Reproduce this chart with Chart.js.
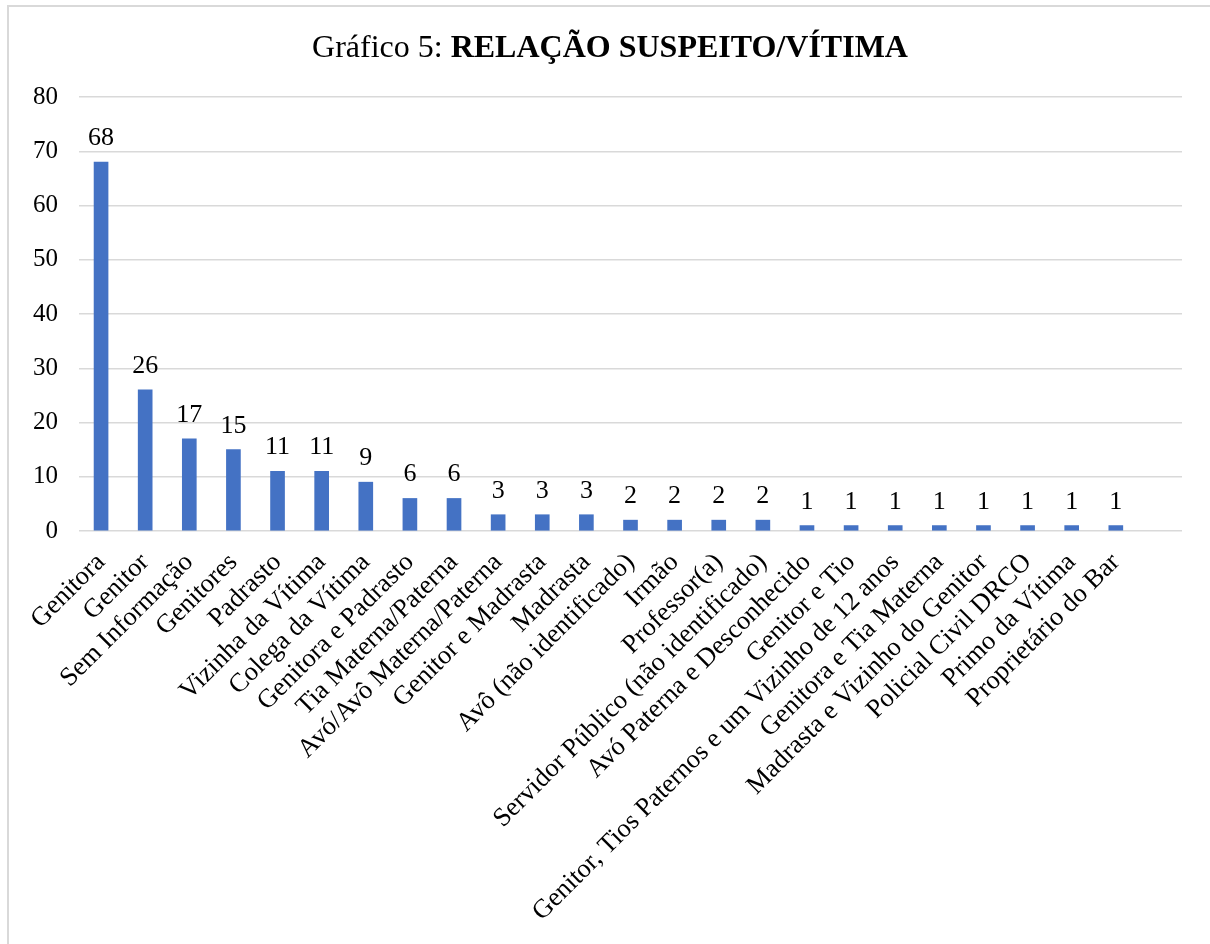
<!DOCTYPE html>
<html lang="pt">

<head>
    <meta charset="UTF-8">
    <title>Gráfico 5</title>
    <script src="https://cdn.jsdelivr.net/npm/chart.js@4.4.0/dist/chart.umd.min.js"></script>
    <style>
        html, body { margin: 0; padding: 0; background: #fff; overflow: hidden; }
        #frame {
            position: absolute; left: 7px; top: 5px; width: 1400px; height: 1100px;
            border: 2px solid #d9d9d9; box-sizing: border-box;
        }
        #myChart { position: absolute; left: 0; top: 0; }
    </style>
</head>

<body>
    <div id="frame"></div>
    <canvas id="myChart" width="1210" height="944"></canvas>

    <script>
        // categorias (a última vem vazia na planilha original)
        const categorias = [
            'Genitora', 'Genitor', 'Sem Informação', 'Genitores', 'Padrasto',
            'Vizinha da Vítima', 'Colega da Vítima', 'Genitora e Padrasto',
            'Tia Materna/Paterna', 'Avó/Avô Materna/Paterna', 'Genitor e Madrasta',
            'Madrasta', 'Avô (não identificado)', 'Irmão', 'Professor(a)',
            'Servidor Público (não identificado)', 'Avó Paterna e Desconhecido',
            'Genitor e Tio', 'Genitor, Tios Paternos e um Vizinho de 12 anos',
            'Genitora e Tia Materna', 'Madrasta e Vizinho do Genitor',
            'Policial Civil DRCO', 'Primo da Vítima', 'Proprietário do Bar', ''
        ]
        const casos = [68, 26, 17, 15, 11, 11, 9, 6, 6, 3, 3, 3, 2, 2, 2, 2, 1, 1, 1, 1, 1, 1, 1, 1, null]
        const yTicks = [0, 10, 20, 30, 40, 50, 60, 70, 80]

        const tituloNormal = 'Gráfico 5: '
        const tituloNegrito = 'RELAÇÃO SUSPEITO/VÍTIMA'

        const serif = '"Liberation Serif", "Times New Roman", serif'

        // titulo com parte em negrito
        const tituloPlugin = {
            id: 'titulo',
            afterDraw(chart) {
                const ctx = chart.ctx
                ctx.save()
                ctx.fillStyle = '#000'
                ctx.textBaseline = 'alphabetic'
                ctx.font = '32px ' + serif
                const w1 = ctx.measureText(tituloNormal).width
                ctx.font = 'bold 32px ' + serif
                const w2 = ctx.measureText(tituloNegrito).width
                let x = 610 - (w1 + w2) / 2
                ctx.textAlign = 'left'
                ctx.font = '32px ' + serif
                ctx.fillText(tituloNormal, x, 57)
                ctx.font = 'bold 32px ' + serif
                ctx.fillText(tituloNegrito, x + w1, 57)
                ctx.restore()
            }
        }

        // rotulos de valor acima das barras
        const rotulosPlugin = {
            id: 'rotulos',
            afterDatasetsDraw(chart) {
                const ctx = chart.ctx
                const meta = chart.getDatasetMeta(0)
                ctx.save()
                ctx.fillStyle = '#000'
                ctx.font = '26px ' + serif
                ctx.textAlign = 'center'
                ctx.textBaseline = 'alphabetic'
                meta.data.forEach((bar, i) => {
                    const v = casos[i]
                    if (v === null) return
                    ctx.fillText(String(v), bar.x, bar.y - 17)
                })
                ctx.restore()
            }
        }

        const ctx = document.getElementById('myChart').getContext('2d')
        const myChart = new Chart(ctx, {
            type: 'bar',
            data: {
                labels: categorias,
                datasets: [{
                    data: casos,
                    backgroundColor: '#4472C4',
                    barThickness: 14
                }]
            },
            options: {
                responsive: false,
                animation: false,
                devicePixelRatio: 1,
                layout: { padding: { top: 97, right: 28, left: 0, bottom: 0 } },
                plugins: {
                    legend: { display: false },
                    tooltip: { enabled: false },
                    title: { display: false }
                },
                scales: {
                    x: {
                        grid: { display: false, drawTicks: false },
                        border: { display: false },
                        ticks: {
                            color: '#000',
                            font: { family: serif, size: 26.5 },
                            autoSkip: false,
                            minRotation: 45,
                            maxRotation: 45,
                            padding: 16
                        },
                        afterFit(scale) { scale.height = 413 }
                    },
                    y: {
                        min: 0,
                        max: 80,
                        afterBuildTicks(scale) { scale.ticks = yTicks.map(v => ({ value: v })) },
                        grid: { color: '#d9d9d9', lineWidth: 1.5, drawTicks: false },
                        border: { display: false },
                        ticks: {
                            color: '#000',
                            font: { family: serif, size: 25 },
                            padding: 21
                        },
                        afterFit(scale) { scale.width = 79 }
                    }
                }
            },
            plugins: [tituloPlugin, rotulosPlugin]
        })
    </script>
</body>

</html>
